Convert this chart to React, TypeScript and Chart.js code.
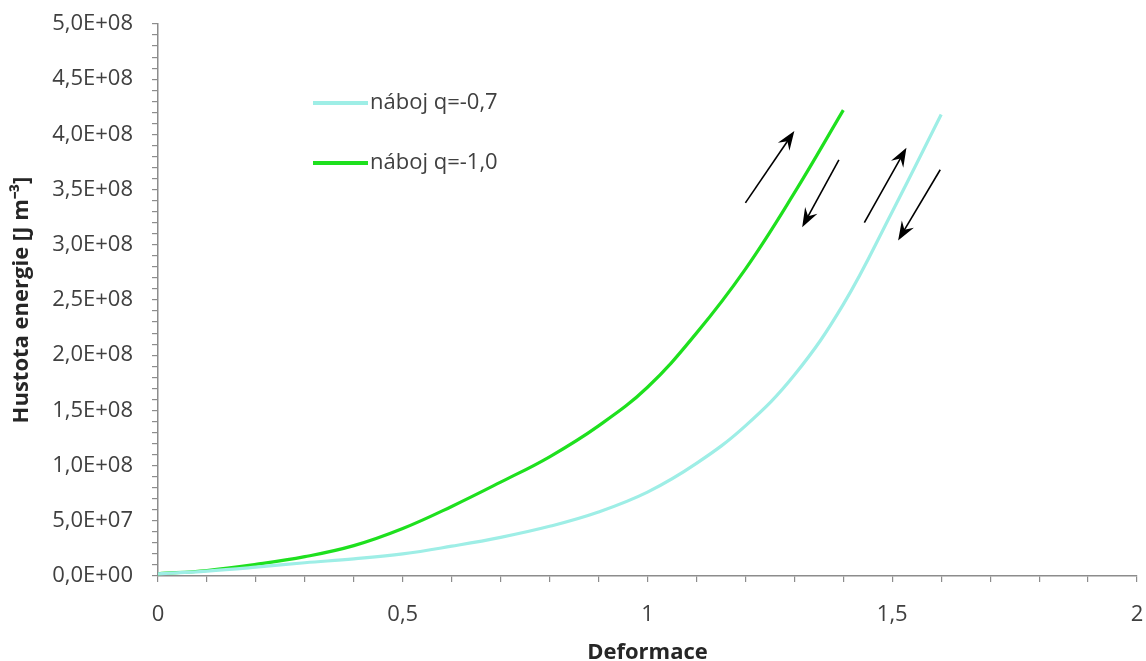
import React, { useEffect, useRef } from "react";
import { Chart, registerables } from "chart.js";

Chart.register(...registerables);

const xValues = [0, 0.1, 0.2, 0.3, 0.4, 0.5, 0.6, 0.7, 0.8, 0.9, 1.0, 1.1, 1.2, 1.3, 1.4, 1.5, 1.6];
const seriesQ07 = [2e6, 4.5e6, 8e6, 1.2e7, 1.55e7, 2e7, 2.7e7, 3.5e7, 4.5e7, 5.8e7, 7.6e7, 1.02e8, 1.36e8, 1.82e8, 2.46e8, 3.3e8, 4.18e8];
const seriesQ10 = [2e6, 5e6, 1.05e7, 1.75e7, 2.75e7, 4.3e7, 6.3e7, 8.5e7, 1.08e8, 1.36e8, 1.71e8, 2.2e8, 2.78e8, 3.47e8, 4.22e8];
const seriesLabels = ["náboj q=-0,7", "náboj q=-1,0"];
const xTitle = "Deformace";
const yTitle = "Hustota energie [J m⁻³]";
// arrows: [tailX, tailY, tipX, tipY] in data units
const arrows = [
  [1.2, 3.38e8, 1.3, 4.03e8],
  [1.391, 3.77e8, 1.316, 3.16e8],
  [1.443, 3.2e8, 1.529, 3.88e8],
  [1.598, 3.68e8, 1.512, 3.04e8],
];

const COL_CYAN = "#9eeee6";
const COL_GREEN = "#1ee01e";
const TEXT = "#404040";
const TITLE = "#262626";
const FONT = "'Open Sans', sans-serif";
const FS = 22;

function fmtY(v: number) {
  const s = v.toExponential(1);
  const [m, e] = s.split("e");
  const sign = e[0] === "-" ? "-" : "+";
  const digits = e.replace(/[+-]/, "").padStart(2, "0");
  return m.replace(".", ",") + "E" + sign + digits;
}

const overlayPlugin = {
  id: "overlay",
  afterDatasetsDraw(chart: any) {
    const { ctx, chartArea, scales } = chart;
    const xs = scales.x;
    const ys = scales.y;
    ctx.save();
    ctx.strokeStyle = "#000";
    ctx.fillStyle = "#000";
    for (const a of arrows) {
      const x1 = xs.getPixelForValue(a[0]);
      const y1 = ys.getPixelForValue(a[1]);
      const x2 = xs.getPixelForValue(a[2]);
      const y2 = ys.getPixelForValue(a[3]);
      const ang = Math.atan2(y2 - y1, x2 - x1);
      const hl = 19;
      const hw = 7;
      const c = Math.cos(ang);
      const s = Math.sin(ang);
      ctx.lineWidth = 1.6;
      ctx.beginPath();
      ctx.moveTo(x1, y1);
      ctx.lineTo(x2 - c * hl * 0.6, y2 - s * hl * 0.6);
      ctx.stroke();
      const bx = x2 - c * hl;
      const by = y2 - s * hl;
      const nx = -s;
      const ny = c;
      ctx.beginPath();
      ctx.moveTo(x2, y2);
      ctx.lineTo(bx + nx * hw, by + ny * hw);
      ctx.lineTo(x2 - c * hl * 0.65, y2 - s * hl * 0.65);
      ctx.lineTo(bx - nx * hw, by - ny * hw);
      ctx.closePath();
      ctx.fill();
    }
    // legend
    const lx = chartArea.left + 155;
    const ly = chartArea.top + 79;
    const cols = [COL_CYAN, COL_GREEN];
    ctx.font = `${FS}px ${FONT}`;
    ctx.textBaseline = "middle";
    ctx.textAlign = "left";
    for (let i = 0; i < 2; i++) {
      const y = ly + i * 60;
      ctx.strokeStyle = cols[i];
      ctx.lineWidth = 4;
      ctx.beginPath();
      ctx.moveTo(lx, y);
      ctx.lineTo(lx + 55, y);
      ctx.stroke();
      ctx.fillStyle = TEXT;
      ctx.fillText(seriesLabels[i], lx + 57, y);
    }
    ctx.restore();
  },
};

export default function App() {
  const ref = useRef<HTMLCanvasElement>(null);
  useEffect(() => {
    const ctx = ref.current!;
    const chart = new Chart(ctx, {
      type: "line",
      data: {
        datasets: [
          {
            label: seriesLabels[0],
            data: xValues.slice(0, seriesQ07.length).map((x, i) => ({ x, y: seriesQ07[i] })),
            borderColor: COL_CYAN,
            borderWidth: 3.2,
            pointRadius: 0,
            tension: 0.4,
            fill: false,
          },
          {
            label: seriesLabels[1],
            data: xValues.slice(0, seriesQ10.length).map((x, i) => ({ x, y: seriesQ10[i] })),
            borderColor: COL_GREEN,
            borderWidth: 3.2,
            pointRadius: 0,
            tension: 0.4,
            fill: false,
          },
        ],
      },
      options: {
        animation: false,
        responsive: false,
        maintainAspectRatio: false,
        layout: { padding: { left: 0, right: 9, top: 24, bottom: 0 } },
        plugins: { legend: { display: false }, tooltip: { enabled: false } },
        scales: {
          x: {
            type: "linear",
            min: 0,
            max: 2,
            afterFit: (s: any) => {
              s.height = 85;
              s.paddingLeft = 0;
              s.paddingRight = 0;
            },
            border: { color: "#8c8c8c", width: 1.5 },
            grid: { drawOnChartArea: false, drawTicks: true, tickLength: 6, color: "#8c8c8c", lineWidth: 1.2 },
            ticks: {
              stepSize: 0.1,
              autoSkip: false,
              maxRotation: 0,
              padding: 20,
              color: TEXT,
              font: { family: FONT, size: FS },
              callback: (v: any) => {
                const n = Math.round(Number(v) * 10);
                if (n % 5 !== 0) return "";
                return String(n / 10).replace(".", ",");
              },
            },
            title: {
              display: true,
              text: xTitle,
              color: TITLE,
              font: { family: FONT, size: FS, weight: "bold", lineHeight: 1 },
              padding: { top: 0, bottom: -3 },
            },
          },
          y: {
            type: "linear",
            min: 0,
            max: 5e8,
            afterFit: (s: any) => {
              s.width = 158;
              s.paddingTop = 0;
              s.paddingBottom = 0;
            },
            border: { color: "#8c8c8c", width: 1.5 },
            grid: { drawOnChartArea: false, drawTicks: true, tickLength: 6, color: "#8c8c8c", lineWidth: 1.2 },
            ticks: {
              stepSize: 1e7,
              autoSkip: false,
              padding: 19,
              color: TEXT,
              font: { family: FONT, size: FS },
              callback: (v: any) => {
                const n = Math.round(Number(v) / 1e7);
                if (n % 5 !== 0) return "";
                return fmtY(n * 1e7);
              },
            },
            title: {
              display: true,
              text: yTitle,
              color: TITLE,
              font: { family: FONT, size: FS, weight: "bold", lineHeight: 1.2 },
              padding: { top: 9, bottom: 0 },
            },
          },
        },
      },
      plugins: [overlayPlugin],
    } as any);
    return () => chart.destroy();
  }, []);
  return (
    <div style={{ position: "fixed", left: 0, top: 0, width: 1146, height: 661, background: "#fff" }}>
      <canvas ref={ref} width={1146} height={661} style={{ width: 1146, height: 661 }} />
    </div>
  );
}
